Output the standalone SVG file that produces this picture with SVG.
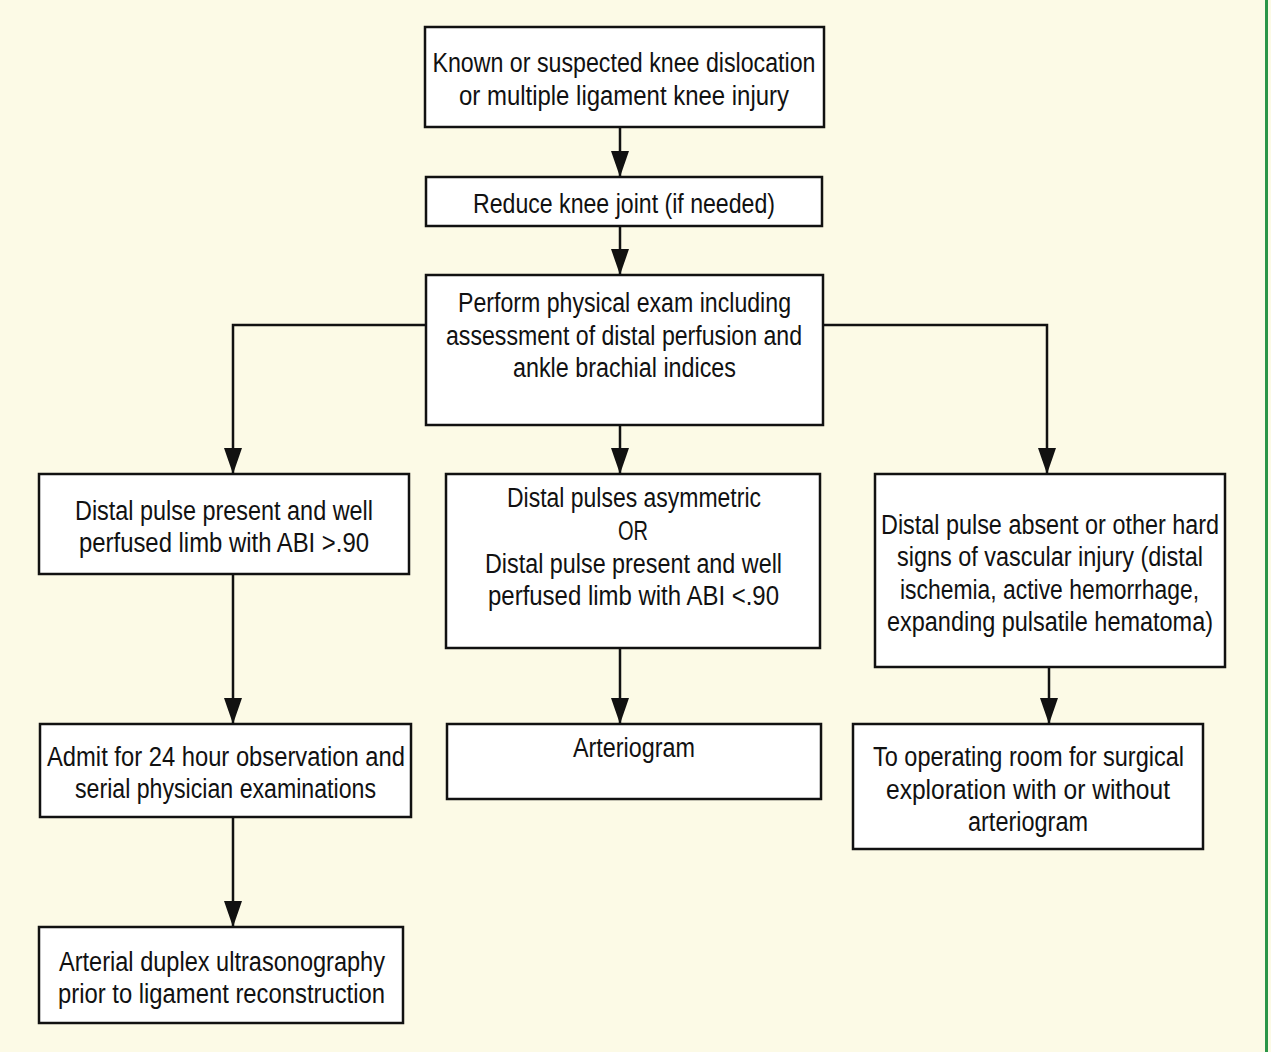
<svg xmlns="http://www.w3.org/2000/svg" width="1271" height="1052" viewBox="0 0 1271 1052">
<style>
.box{fill:#ffffff;stroke:#111111;stroke-width:2.5}
.t{font-family:"Liberation Sans",Arial,sans-serif;font-size:27px;fill:#111111;text-anchor:middle}
.c{fill:none;stroke:#111111;stroke-width:2.5}
</style>
<defs>
<marker id="ah" markerUnits="userSpaceOnUse" markerWidth="26" markerHeight="18" viewBox="0 0 26 18" refX="26" refY="9" orient="auto">
<path d="M0,0 L26,9 L0,18 z" fill="#111111"/>
</marker>
</defs>
<rect x="0" y="0" width="1271" height="1052" fill="#fcfae6"/>
<rect x="1265" y="0" width="3" height="1052" fill="#2a9548"/>
<g id="connectors">
<line class="c" x1="620" y1="127" x2="620" y2="177" marker-end="url(#ah)"/>
<line class="c" x1="620" y1="226" x2="620" y2="275" marker-end="url(#ah)"/>
<polyline class="c" points="426,325 233,325 233,474" marker-end="url(#ah)"/>
<polyline class="c" points="823,325 1047,325 1047,474" marker-end="url(#ah)"/>
<line class="c" x1="620" y1="425" x2="620" y2="474" marker-end="url(#ah)"/>
<line class="c" x1="233" y1="574" x2="233" y2="724" marker-end="url(#ah)"/>
<line class="c" x1="620" y1="648" x2="620" y2="724" marker-end="url(#ah)"/>
<line class="c" x1="1049" y1="667" x2="1049" y2="724" marker-end="url(#ah)"/>
<line class="c" x1="233" y1="817" x2="233" y2="927" marker-end="url(#ah)"/>
</g>
<g id="n1">
<rect class="box" x="425" y="27" width="399" height="100"/>
<text class="t" x="624" y="72" textLength="383" lengthAdjust="spacingAndGlyphs">Known or suspected knee dislocation</text>
<text class="t" x="624" y="105" textLength="330" lengthAdjust="spacingAndGlyphs">or multiple ligament knee injury</text>
</g>
<g id="n2">
<rect class="box" x="426" y="177" width="396" height="49"/>
<text class="t" x="624" y="213" textLength="302" lengthAdjust="spacingAndGlyphs">Reduce knee joint (if needed)</text>
</g>
<g id="n3">
<rect class="box" x="426" y="275" width="397" height="150"/>
<text class="t" x="624.5" y="312" textLength="333" lengthAdjust="spacingAndGlyphs">Perform physical exam including</text>
<text class="t" x="624" y="345" textLength="356" lengthAdjust="spacingAndGlyphs">assessment of distal perfusion and</text>
<text class="t" x="624.5" y="377" textLength="223" lengthAdjust="spacingAndGlyphs">ankle brachial indices</text>
</g>
<g id="n4">
<rect class="box" x="39" y="474" width="370" height="100"/>
<text class="t" x="224" y="520" textLength="298" lengthAdjust="spacingAndGlyphs">Distal pulse present and well</text>
<text class="t" x="224" y="552" textLength="290" lengthAdjust="spacingAndGlyphs">perfused limb with ABI &gt;.90</text>
</g>
<g id="n5">
<rect class="box" x="446" y="474" width="374" height="174"/>
<text class="t" x="634" y="507" textLength="254" lengthAdjust="spacingAndGlyphs">Distal pulses asymmetric</text>
<text class="t" x="633" y="540" textLength="30" lengthAdjust="spacingAndGlyphs">OR</text>
<text class="t" x="633.5" y="573" textLength="297" lengthAdjust="spacingAndGlyphs">Distal pulse present and well</text>
<text class="t" x="633.5" y="605" textLength="291" lengthAdjust="spacingAndGlyphs">perfused limb with ABI &lt;.90</text>
</g>
<g id="n6">
<rect class="box" x="875" y="474" width="350" height="193"/>
<text class="t" x="1050" y="534" textLength="338" lengthAdjust="spacingAndGlyphs">Distal pulse absent or other hard</text>
<text class="t" x="1050" y="566" textLength="306" lengthAdjust="spacingAndGlyphs">signs of vascular injury (distal</text>
<text class="t" x="1049.5" y="599" textLength="299" lengthAdjust="spacingAndGlyphs">ischemia, active hemorrhage,</text>
<text class="t" x="1050" y="631" textLength="326" lengthAdjust="spacingAndGlyphs">expanding pulsatile hematoma)</text>
</g>
<g id="n7">
<rect class="box" x="40" y="724" width="371" height="93"/>
<text class="t" x="226" y="766" textLength="358" lengthAdjust="spacingAndGlyphs">Admit for 24 hour observation and</text>
<text class="t" x="225.5" y="798" textLength="301" lengthAdjust="spacingAndGlyphs">serial physician examinations</text>
</g>
<g id="n8">
<rect class="box" x="447" y="724" width="374" height="75"/>
<text class="t" x="634" y="757" textLength="122" lengthAdjust="spacingAndGlyphs">Arteriogram</text>
</g>
<g id="n9">
<rect class="box" x="853" y="724" width="350" height="125"/>
<text class="t" x="1028.5" y="766" textLength="311" lengthAdjust="spacingAndGlyphs">To operating room for surgical</text>
<text class="t" x="1028" y="799" textLength="284" lengthAdjust="spacingAndGlyphs">exploration with or without</text>
<text class="t" x="1028" y="831" textLength="120" lengthAdjust="spacingAndGlyphs">arteriogram</text>
</g>
<g id="n10">
<rect class="box" x="39" y="927" width="364" height="96"/>
<text class="t" x="222" y="971" textLength="326" lengthAdjust="spacingAndGlyphs">Arterial duplex ultrasonography</text>
<text class="t" x="221.5" y="1003" textLength="327" lengthAdjust="spacingAndGlyphs">prior to ligament reconstruction</text>
</g>
</svg>
